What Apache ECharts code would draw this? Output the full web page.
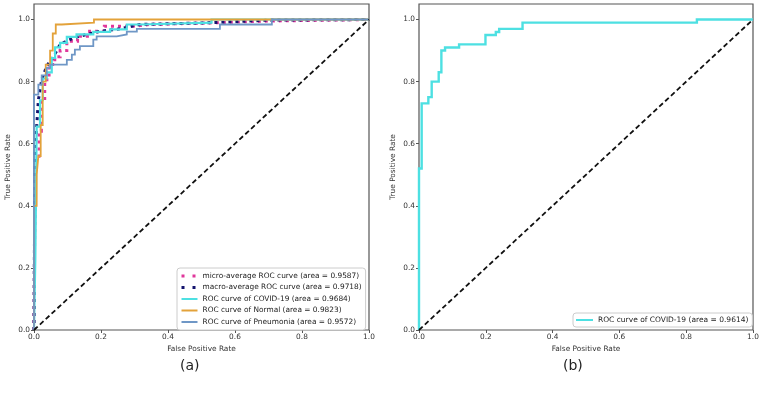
<!DOCTYPE html>
<html><head><meta charset="utf-8">
<script src="https://cdn.jsdelivr.net/npm/echarts@6/dist/echarts.min.js"></script>
<style>html,body{margin:0;padding:0;background:#fff}#c{width:765px;height:403px}</style>
</head><body><div id="c"></div>
<script>
// ---- Data ----
const tickValues = [0, 0.2, 0.4, 0.6, 0.8, 1.0];
const diagFpr = [0, 1];
const diagTpr = [0, 1];

// (a) micro-average
const microFpr = [0, 0.003, 0.003, 0.008, 0.008, 0.015, 0.015, 0.022, 0.022, 0.032, 0.032, 0.045, 0.045, 0.062, 0.062, 0.078, 0.078, 0.098, 0.098, 0.13, 0.13, 0.166, 0.166, 0.21, 0.21, 0.295, 0.295, 0.345, 0.345, 0.55, 0.55, 0.7, 0.7, 1];
const microTpr = [0, 0, 0.48, 0.48, 0.56, 0.56, 0.64, 0.64, 0.74, 0.74, 0.806, 0.806, 0.855, 0.855, 0.88, 0.88, 0.9, 0.9, 0.93, 0.93, 0.946, 0.946, 0.962, 0.962, 0.978, 0.978, 0.984, 0.984, 0.99, 0.99, 0.995, 0.995, 1, 1];
// (a) macro-average
const macroFpr = [0, 0.002, 0.003, 0.008, 0.013, 0.023, 0.038, 0.058, 0.078, 0.117, 0.157, 0.197, 0.257, 0.316, 0.535, 0.7, 1];
const macroTpr = [0, 0.4, 0.58, 0.655, 0.74, 0.806, 0.85, 0.88, 0.92, 0.94, 0.952, 0.962, 0.97, 0.984, 0.99, 0.998, 1];
// (a) COVID-19
const covidAFpr = [0, 0.004, 0.004, 0.008, 0.008, 0.018, 0.018, 0.026, 0.026, 0.038, 0.038, 0.053, 0.053, 0.063, 0.063, 0.078, 0.078, 0.098, 0.098, 0.127, 0.127, 0.177, 0.177, 0.227, 0.227, 0.277, 0.277, 0.316, 0.316, 0.53, 0.53, 1];
const covidATpr = [0, 0, 0.23, 0.23, 0.655, 0.655, 0.74, 0.74, 0.81, 0.81, 0.83, 0.83, 0.876, 0.876, 0.91, 0.91, 0.925, 0.925, 0.944, 0.944, 0.952, 0.952, 0.96, 0.96, 0.968, 0.968, 0.984, 0.984, 0.99, 0.99, 1, 1];
// (a) Normal
const normalFpr = [0, 0, 0.008, 0.008, 0.013, 0.013, 0.02, 0.02, 0.026, 0.026, 0.035, 0.035, 0.048, 0.048, 0.056, 0.056, 0.065, 0.065, 0.083, 0.083, 0.179, 0.179, 1];
const normalTpr = [0, 0.40, 0.40, 0.50, 0.50, 0.56, 0.56, 0.66, 0.66, 0.80, 0.80, 0.855, 0.855, 0.90, 0.90, 0.955, 0.955, 0.984, 0.984, 0.99, 0.99, 1, 1];
// (a) Pneumonia
const pneuFpr = [0, 0, 0.013, 0.013, 0.023, 0.023, 0.038, 0.038, 0.048, 0.048, 0.098, 0.098, 0.113, 0.113, 0.122, 0.122, 0.137, 0.137, 0.177, 0.177, 0.187, 0.187, 0.247, 0.247, 0.277, 0.277, 0.307, 0.307, 0.555, 0.555, 0.71, 0.71, 1];
const pneuTpr = [0, 0.758, 0.758, 0.79, 0.79, 0.82, 0.82, 0.844, 0.844, 0.855, 0.855, 0.87, 0.87, 0.887, 0.887, 0.903, 0.903, 0.914, 0.914, 0.935, 0.935, 0.946, 0.946, 0.952, 0.952, 0.961, 0.961, 0.97, 0.97, 0.984, 0.984, 1, 1];
// (b) COVID-19
const covidBFpr = [0, 0, 0.008, 0.008, 0.028, 0.028, 0.038, 0.038, 0.059, 0.059, 0.067, 0.067, 0.078, 0.078, 0.12, 0.12, 0.199, 0.199, 0.23, 0.23, 0.24, 0.24, 0.31, 0.31, 0.832, 0.832, 1];
const covidBTpr = [0, 0.52, 0.52, 0.73, 0.73, 0.75, 0.75, 0.80, 0.80, 0.83, 0.83, 0.90, 0.90, 0.91, 0.91, 0.92, 0.92, 0.95, 0.95, 0.96, 0.96, 0.97, 0.97, 0.99, 0.99, 1, 1];

const names = {
  micro: 'micro-average ROC curve (area = 0.9587)',
  macro: 'macro-average ROC curve (area = 0.9718)',
  covidA: 'ROC curve of COVID-19 (area = 0.9684)',
  normal: 'ROC curve of Normal (area = 0.9823)',
  pneu: 'ROC curve of Pneumonia (area = 0.9572)',
  covidB: 'ROC curve of COVID-19 (area = 0.9614)'
};
const captions = ['(a)', '(b)'];

// ---- Styling ----
const FONT = 'DejaVu Sans';
const C = { micro: '#e0379b', macro: '#14146e', covid: '#4de0e2', normal: '#e3a23a', pneu: '#6f97c6' };
const zip = (a, b) => a.map((v, i) => [v, b[i]]);
const axisCommon = (gi) => ({
  gridIndex: gi, type: 'value', min: 0, interval: 0.2,
  axisLine: { show: false },
  splitLine: { show: false },
  axisTick: { show: true, length: 3, lineStyle: { color: '#555', width: 1 }, customValues: tickValues },
  axisLabel: { customValues: tickValues, formatter: v => v.toFixed(1), fontFamily: FONT, fontSize: 7.4, color: '#333', margin: 4 },
  nameLocation: 'middle',
  nameTextStyle: { fontFamily: FONT, fontSize: 7.4, color: '#333' }
});
const line = (name, xi, data, color, width, type, z) => ({
  name, type: 'line', xAxisIndex: xi, yAxisIndex: xi, data, symbol: 'none', silent: true,
  lineStyle: { color, width, type: type || 'solid', cap: 'butt', join: 'miter' }, itemStyle: { color }, z: z || 2, animation: false
});

const option = {
  animation: false,
  grid: [
    { left: 34, top: 4, width: 335, height: 326, show: true, borderColor: '#555', borderWidth: 1.2 },
    { left: 419, top: 4, width: 334, height: 326, show: true, borderColor: '#555', borderWidth: 1.2 }
  ],
  xAxis: [
    Object.assign(axisCommon(0), { max: 1, name: 'False Positive Rate', nameGap: 15 }),
    Object.assign(axisCommon(1), { max: 1, name: 'False Positive Rate', nameGap: 15 })
  ],
  yAxis: [
    Object.assign(axisCommon(0), { max: 1.05, name: 'True Positive Rate', nameGap: 22 }),
    Object.assign(axisCommon(1), { max: 1.05, name: 'True Positive Rate', nameGap: 22 })
  ],
  legend: [
    {
      left: 177, top: 268, orient: 'vertical', padding: [3, 4, 3, 3], itemGap: 1.5,
      itemWidth: 16, itemHeight: 10, backgroundColor: '#fff', borderColor: '#ccc', borderWidth: 1, borderRadius: 3,
      itemStyle: { opacity: 0 },
      textStyle: { fontFamily: FONT, fontSize: 7.4, color: '#222', lineHeight: 10 },
      data: [
        { name: names.micro, lineStyle: { type: [3, 8], width: 3, color: C.micro } },
        { name: names.macro, lineStyle: { type: [3, 8], width: 3, color: C.macro } },
        { name: names.covidA }, { name: names.normal }, { name: names.pneu }
      ]
    },
    {
      left: 573, top: 313, orient: 'vertical', padding: [2, 4, 2, 2], itemWidth: 17, itemHeight: 10,
      backgroundColor: '#fff', borderColor: '#ccc', borderWidth: 1, borderRadius: 3,
      itemStyle: { opacity: 0 },
      textStyle: { fontFamily: FONT, fontSize: 7.5, color: '#222', lineHeight: 10 },
      data: [{ name: names.covidB }]
    }
  ],
  graphic: [
    { type: 'text', left: 190 - 10, top: 359, style: { text: captions[0], font: '14px ' + FONT, fill: '#222' } },
    { type: 'text', left: 573 - 10, top: 359, style: { text: captions[1], font: '14px ' + FONT, fill: '#222' } }
  ],
  series: [
    line(names.micro, 0, zip(microFpr, microTpr), C.micro, 3, [3, 4]),
    line(names.macro, 0, zip(macroFpr, macroTpr), C.macro, 3, [3, 4]),
    line(names.covidA, 0, zip(covidAFpr, covidATpr), C.covid, 2.2),
    line(names.normal, 0, zip(normalFpr, normalTpr), C.normal, 1.8),
    line(names.pneu, 0, zip(pneuFpr, pneuTpr), C.pneu, 1.8),
    line('diagA', 0, zip(diagFpr, diagTpr), '#111', 1.8, [5, 3]),
    line(names.covidB, 1, zip(covidBFpr, covidBTpr), C.covid, 2.4),
    line('diagB', 1, zip(diagFpr, diagTpr), '#111', 1.8, [5, 3])
  ]
};
const chart = echarts.init(document.getElementById('c'), null, { renderer: 'canvas' });
chart.setOption(option);
</script></body></html>
